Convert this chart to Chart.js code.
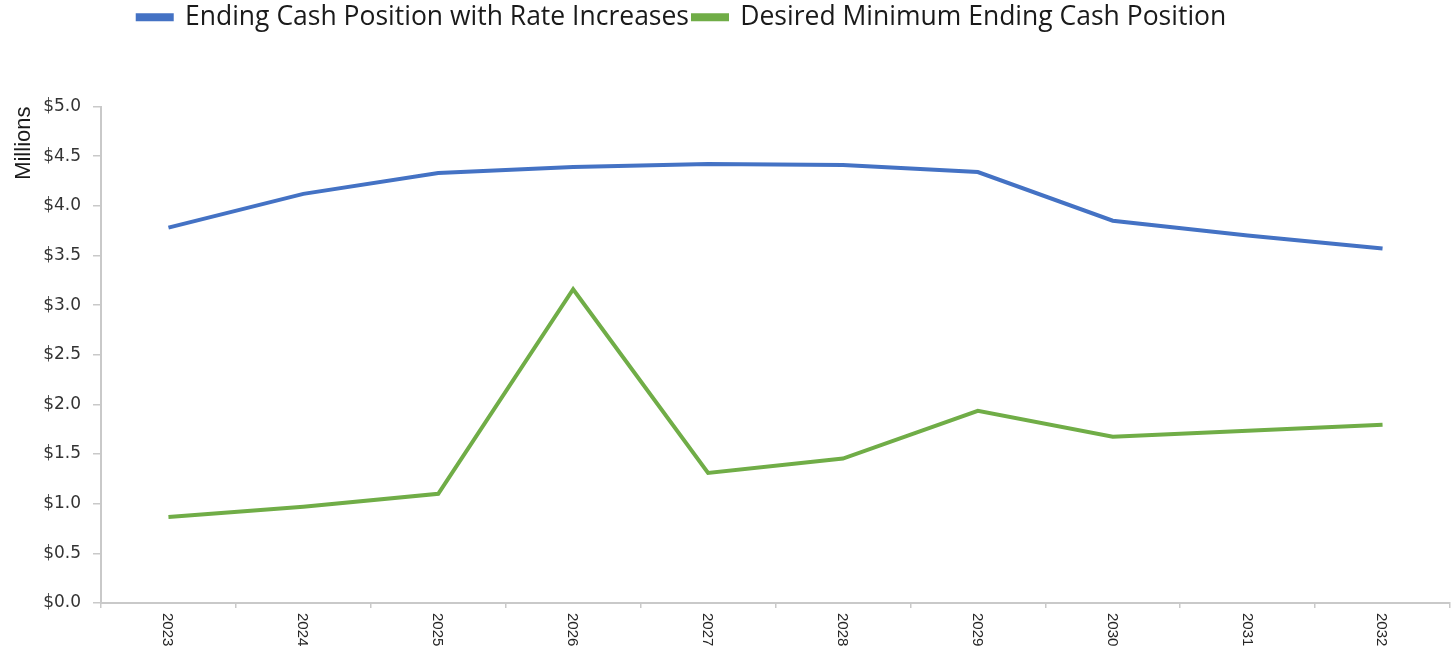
<!DOCTYPE html>
<html>
<head>
<meta charset="utf-8">
<script src="https://cdn.jsdelivr.net/npm/chart.js@4/dist/chart.umd.min.js"></script>
<style>
  html, body { margin: 0; padding: 0; background: #ffffff; }
  #wrap { width: 1451px; height: 648px; }
</style>
</head>
<body>
<div id="wrap"><canvas id="cash"></canvas></div>
<script>
// Fiscal years on the horizontal axis
const years = ['2023', '2024', '2025', '2026', '2027', '2028', '2029', '2030', '2031', '2032'];

// Ending cash position, $ millions
const endingCash = [3.78, 4.12, 4.33, 4.39, 4.42, 4.41, 4.34, 3.85, 3.70, 3.57];
const desiredMinimum = [0.865, 0.97, 1.10, 3.16, 1.31, 1.455, 1.935, 1.675, 1.735, 1.795];

// Y axis ticks: $0.0 … $5.0 in steps of 0.5
const yMin = 0, yMax = 5, yStep = 0.5;

const seriesNames = ['Ending Cash Position with Rate Increases', 'Desired Minimum Ending Cash Position'];
const seriesColors = ['#4472C4', '#70AD47'];

// Leaves room between the legend and the plot, and nudges the legend left
const legendSpacer = {
  id: 'legendSpacer',
  beforeInit(chart) {
    const fit = chart.legend.fit;
    chart.legend.fit = function () {
      fit.call(this);
      this.height += 66;
    };
  },
  afterLayout(chart) {
    chart.legend.left -= 43;
    chart.legend.right -= 43;
  }
};

// Year labels written top-to-bottom under each category
const verticalYearLabels = {
  id: 'verticalYearLabels',
  afterDraw(chart) {
    const xs = chart.scales.x;
    const ctx = chart.ctx;
    ctx.save();
    ctx.font = '15px "Liberation Sans", Arial, sans-serif';
    ctx.fillStyle = '#262626';
    ctx.textAlign = 'left';
    ctx.textBaseline = 'middle';
    years.forEach((label, i) => {
      const x = xs.getPixelForValue(i);
      ctx.save();
      ctx.translate(x - 1, xs.top + 10);
      ctx.rotate(Math.PI / 2);
      ctx.fillText(label, 0, 0);
      ctx.restore();
    });
    ctx.restore();
  }
};

new Chart(document.getElementById('cash'), {
  type: 'line',
  data: {
    labels: years,
    datasets: [
      {
        label: seriesNames[0],
        data: endingCash,
        borderColor: seriesColors[0],
        backgroundColor: seriesColors[0],
        borderWidth: 4,
        pointRadius: 0,
        tension: 0
      },
      {
        label: seriesNames[1],
        data: desiredMinimum,
        borderColor: seriesColors[1],
        backgroundColor: seriesColors[1],
        borderWidth: 4,
        pointRadius: 0,
        tension: 0
      }
    ]
  },
  options: {
    responsive: true,
    maintainAspectRatio: false,
    animation: false,
    layout: { padding: { left: 0, right: 1, top: 0, bottom: 0 } },
    plugins: {
      legend: {
        position: 'top',
        align: 'center',
        labels: {
          boxWidth: 34,
          boxHeight: 4,
          padding: 4,
          color: '#1a1a1a',
          font: { family: '"Open Sans", sans-serif', size: 26.5 }
        }
      },
      tooltip: { enabled: false }
    },
    scales: {
      x: {
        type: 'category',
        offset: true,
        grid: {
          offset: true,
          drawOnChartArea: false,
          drawTicks: true,
          tickLength: 5,
          color: '#c9c9c9',
          lineWidth: 1.5
        },
        border: { display: true, color: '#c9c9c9', width: 2 },
        ticks: { display: false },
        afterFit(scale) { scale.height = 45; }
      },
      y: {
        min: yMin,
        max: yMax,
        grid: {
          drawOnChartArea: false,
          drawTicks: true,
          tickLength: 8,
          color: '#c9c9c9',
          lineWidth: 1.5
        },
        border: { display: true, color: '#c9c9c9', width: 2 },
        ticks: {
          stepSize: yStep,
          padding: 12,
          color: '#333333',
          font: { family: '"DejaVu Sans", Verdana, sans-serif', size: 17 },
          callback: (v) => '$' + Number(v).toFixed(1)
        },
        title: {
          display: true,
          text: 'Millions',
          align: 'end',
          color: '#1a1a1a',
          padding: { top: 11, bottom: 4 },
          font: { family: '"Liberation Sans", Arial, sans-serif', size: 22 }
        },
        afterFit(scale) { scale.width = 101; }
      }
    }
  },
  plugins: [legendSpacer, verticalYearLabels]
});
</script>
</body>
</html>
